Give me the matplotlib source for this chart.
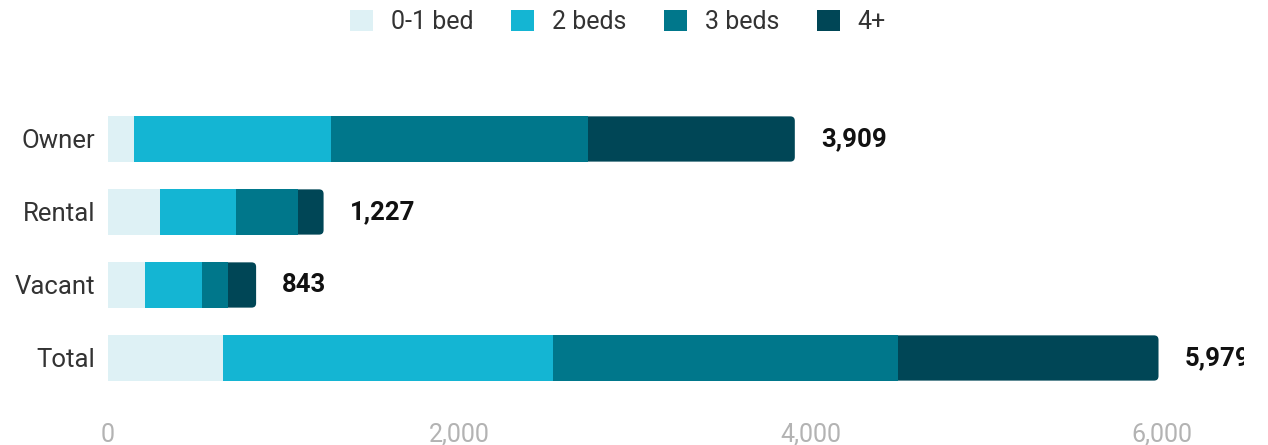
import matplotlib.pyplot as plt
from matplotlib.patches import FancyBboxPatch, Patch

plt.rcParams['font.family'] = ['Roboto', 'DejaVu Sans']

categories = ["Owner", "Rental", "Vacant", "Total"]
series = ["0-1 bed", "2 beds", "3 beds", "4+"]
bed_0_1 = [148, 296, 211, 655]
bed_2 = [1121, 433, 324, 1878]
bed_3 = [1463, 352, 148, 1963]
bed_4 = [1177, 146, 160, 1483]
totals = [3909, 1227, 843, 5979]
xticks = [0, 2000, 4000, 6000]
xtick_labels = ["0", "2,000", "4,000", "6,000"]

colors = ["#def1f5", "#14b5d3", "#00778b", "#004656"]

W, H = 1268, 445
fig = plt.figure(figsize=(W / 100, H / 100), dpi=100)
ax = fig.add_axes([108 / W, 1 - 395 / H, (1244 - 108) / W, 295 / H])

px_x = 0.1757
x_max = (1244 - 108) / px_x
ax.set_xlim(0, x_max)
ax.set_ylim(3.507, -0.534)

bar_h = 0.62
px_y = 73.0
r_px = 4.5

values = [bed_0_1, bed_2, bed_3, bed_4]
for i, cat in enumerate(categories):
    # full bar in the last colour with rounded ends, segments drawn over it
    r = r_px / px_x
    box = FancyBboxPatch((0, i - bar_h / 2), totals[i], bar_h,
                         boxstyle=f"round,pad=0,rounding_size={r}",
                         mutation_aspect=(r_px / px_y) / r,
                         facecolor=colors[3], edgecolor="none", zorder=2)
    ax.add_patch(box)
    left = 0
    for s in range(3):
        ax.barh(i, values[s][i], left=left, height=bar_h, color=colors[s],
                edgecolor="none", zorder=3)
        left += values[s][i]
    ax.text(totals[i] + 26 / px_x, i, f"{totals[i]:,}", va="center", ha="left",
            fontsize=18.5, fontweight="bold", color="#111111", clip_on=True)

ax.set_yticks(range(len(categories)))
ax.set_yticklabels(categories, fontsize=18.5, color="#333333")
ax.set_xticks(xticks)
ax.set_xticklabels(xtick_labels, fontsize=18, color="#b3b3b3")
ax.tick_params(axis="y", length=0, pad=9)
ax.tick_params(axis="x", length=0, pad=20)
for sp in ax.spines.values():
    sp.set_visible(False)

handles = [Patch(facecolor=c, edgecolor="none") for c in colors]
fig.legend(handles, series, loc="center", bbox_to_anchor=(618 / W, 1 - 22 / H),
           ncol=4, frameon=False, fontsize=18, labelcolor="#333333",
           handlelength=0.92, handleheight=0.92, handletextpad=0.72,
           columnspacing=1.5)

fig.savefig("out.png", dpi=100)
